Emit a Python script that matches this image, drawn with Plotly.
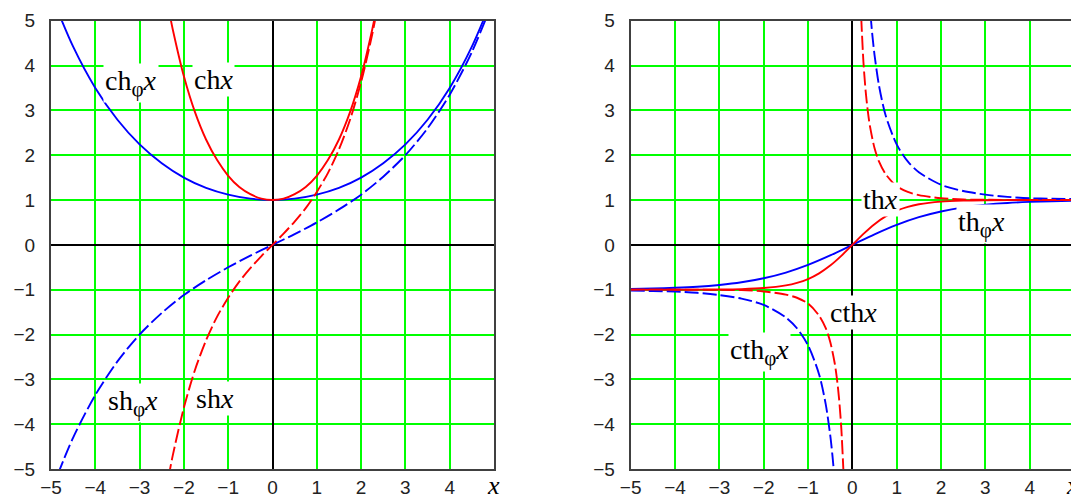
import plotly.graph_objects as go

# ---------------- data ----------------
x_tick_vals = [-5, -4, -3, -2, -1, 0, 1, 2, 3, 4]
y_tick_vals = [-5, -4, -3, -2, -1, 0, 1, 2, 3, 4, 5]

# left panel
x_ch = [-2.3, -2.25, -2.0, -1.75, -1.5, -1.25, -1.0, -0.75, -0.5, -0.25, 0,
        0.25, 0.5, 0.75, 1.0, 1.25, 1.5, 1.75, 2.0, 2.25, 2.3]
ch = [5.04, 4.80, 3.76, 2.96, 2.35, 1.89, 1.54, 1.29, 1.13, 1.03, 1.0,
      1.03, 1.13, 1.29, 1.54, 1.89, 2.35, 2.96, 3.76, 4.80, 5.04]

x_sh = [-2.35, -2.25, -2.0, -1.75, -1.5, -1.25, -1.0, -0.75, -0.5, -0.25, 0,
        0.25, 0.5, 0.75, 1.0, 1.25, 1.5, 1.75, 2.0, 2.25, 2.35]
sh = [-5.20, -4.69, -3.63, -2.79, -2.13, -1.60, -1.18, -0.82, -0.52, -0.25, 0,
      0.25, 0.52, 0.82, 1.18, 1.60, 2.13, 2.79, 3.63, 4.69, 5.20]

x_phi = [-5, -4.5, -4, -3.5, -3, -2.5, -2, -1.5, -1, -0.5, 0,
         0.5, 1, 1.5, 2, 2.5, 3, 3.5, 4, 4.5, 5]
ch_phi = [5.59, 4.42, 3.50, 2.79, 2.24, 1.82, 1.50, 1.27, 1.12, 1.03, 1.0,
          1.03, 1.12, 1.27, 1.50, 1.82, 2.24, 2.79, 3.50, 4.42, 5.59]
sh_phi = [-5.50, -4.30, -3.35, -2.60, -2.00, -1.52, -1.12, -0.79, -0.50, -0.24, 0,
          0.24, 0.50, 0.79, 1.12, 1.52, 2.00, 2.60, 3.35, 4.30, 5.50]

# right panel
x_th = [-5, -4, -3, -2.5, -2, -1.5, -1.25, -1, -0.75, -0.5, -0.25, 0,
        0.25, 0.5, 0.75, 1, 1.25, 1.5, 2, 2.5, 3, 4, 5]
th = [-1.00, -1.00, -0.995, -0.987, -0.964, -0.905, -0.848, -0.762, -0.635, -0.462, -0.245, 0,
      0.245, 0.462, 0.635, 0.762, 0.848, 0.905, 0.964, 0.987, 0.995, 1.00, 1.00]

th_phi = [-0.984, -0.974, -0.958, -0.934, -0.894, -0.835, -0.745, -0.618, -0.447, -0.236, 0,
          0.236, 0.447, 0.618, 0.745, 0.835, 0.894, 0.934, 0.958, 0.974, 0.984]

x_cth_pos = [0.2, 0.25, 0.3, 0.35, 0.4, 0.5, 0.6, 0.75, 1, 1.25, 1.5, 2, 2.5, 3, 4, 5]
cth_pos = [5.07, 4.08, 3.43, 2.97, 2.63, 2.16, 1.86, 1.58, 1.31, 1.18, 1.11, 1.04, 1.01, 1.005, 1.00, 1.00]
x_cth_neg = [-5, -4, -3, -2.5, -2, -1.5, -1.25, -1, -0.75, -0.6, -0.5, -0.4, -0.35, -0.3, -0.25, -0.2]
cth_neg = [-1.00, -1.00, -1.005, -1.01, -1.04, -1.11, -1.18, -1.31, -1.58, -1.86, -2.16, -2.63, -2.97, -3.43, -4.08, -5.07]

x_cthphi_pos = [0.41, 0.45, 0.5, 0.6, 0.75, 1, 1.25, 1.5, 2, 2.5, 3, 3.5, 4, 4.5, 5]
cthphi_pos = [5.13, 4.69, 4.24, 3.56, 2.89, 2.24, 1.86, 1.62, 1.34, 1.20, 1.12, 1.07, 1.04, 1.03, 1.02]
x_cthphi_neg = [-5, -4.5, -4, -3.5, -3, -2.5, -2, -1.5, -1.25, -1, -0.75, -0.6, -0.5, -0.45, -0.41]
cthphi_neg = [-1.02, -1.03, -1.04, -1.07, -1.12, -1.20, -1.34, -1.62, -1.86, -2.24, -2.89, -3.56, -4.24, -4.69, -5.13]

# ---------------- figure ----------------
BLUE = "#0000ff"
RED = "#ff0000"
DASH = "14px,4px"

fig = go.Figure()

def line(x, y, color, dash, ax):
    fig.add_trace(go.Scatter(
        x=x, y=y, mode="lines",
        line=dict(color=color, width=1.9, dash=dash, shape="spline", smoothing=0.8),
        xaxis=ax[0], yaxis=ax[1], showlegend=False, hoverinfo="skip"))

L = ("x", "y")
R = ("x2", "y2")
line(x_phi, ch_phi, BLUE, "solid", L)
line(x_ch, ch, RED, "solid", L)
line(x_phi, sh_phi, BLUE, DASH, L)
line(x_sh, sh, RED, DASH, L)

line(x_phi, th_phi, BLUE, "solid", R)
line(x_th, th, RED, "solid", R)
line(x_cthphi_pos, cthphi_pos, BLUE, DASH, R)
line(x_cthphi_neg, cthphi_neg, BLUE, DASH, R)
line(x_cth_pos, cth_pos, RED, DASH, R)
line(x_cth_neg, cth_neg, RED, DASH, R)

# page body has an 8px margin: figure pixel = screen pixel - 8
OFF = 8
W, H = 1079 - OFF, 495 - OFF
def px_x(s):
    return (s - OFF) / W
def px_y(s):
    return 1 - (s - OFF) / H

y_dom = [px_y(469), px_y(20.7)]

def axis(domain, anchor, tickvals, ticklen):
    d = dict(
        domain=domain, anchor=anchor, range=[-5, 5], automargin=False,
        tickmode="array", tickvals=tickvals,
        showgrid=True, gridcolor="#00ff00", gridwidth=2,
        zeroline=True, zerolinecolor="black", zerolinewidth=2,
        showline=True, linecolor="#404040", linewidth=2, mirror=True,
        tickfont=dict(family="Liberation Sans, Arial, sans-serif", size=19, color="#222"),
        fixedrange=True,
    )
    if ticklen:
        d.update(ticks="outside", ticklen=ticklen, tickcolor="rgba(255,255,255,0)")
    else:
        d.update(ticks="")
    return d

fig.update_layout(
    template="none",
    width=W, height=H,
    margin=dict(l=0, r=0, t=0, b=0, autoexpand=False),
    paper_bgcolor="white", plot_bgcolor="white",
    xaxis=axis([px_x(51), px_x(494)], "y", x_tick_vals, 0),
    yaxis=axis(y_dom, "x", y_tick_vals, 10),
    xaxis2=axis([px_x(630.7), px_x(1074)], "y2", x_tick_vals, 0),
    yaxis2=axis(y_dom, "x2", y_tick_vals, 10),
)

SERIF = "Liberation Serif, Times New Roman, serif"
PHI = '<sub><span style="font-size:21px">φ</span></sub>'
labels = [
    ("x", "y", -3.82, 3.62, "ch" + PHI + "<i>x</i>"),
    ("x", "y", -1.82, 3.68, "ch<i>x</i>"),
    ("x", "y", -3.75, -3.52, "sh" + PHI + "<i>x</i>"),
    ("x", "y", -1.78, -3.42, "sh<i>x</i>"),
    ("x2", "y2", 0.20, 1.02, "th<i>x</i>"),
    ("x2", "y2", 2.33, 0.46, "th" + PHI + "<i>x</i>"),
    ("x2", "y2", -0.56, -1.52, "cth<i>x</i>"),
    ("x2", "y2", -2.80, -2.40, "cth" + PHI + "<i>x</i>"),
]
for xr, yr, x, y, t in labels:
    fig.add_annotation(xref=xr, yref=yr, x=x, y=y, text=t, showarrow=False,
                       xanchor="left", yanchor="middle", bgcolor="white", borderpad=1,
                       font=dict(family=SERIF, size=28, color="black"))

for sx in (493, 1072):
    fig.add_annotation(xref="paper", yref="paper", x=px_x(sx), y=px_y(485),
                       text="<i>x</i>", showarrow=False, xanchor="center", yanchor="middle",
                       font=dict(family=SERIF, size=26, color="black"))

fig.write_html("out.html")
